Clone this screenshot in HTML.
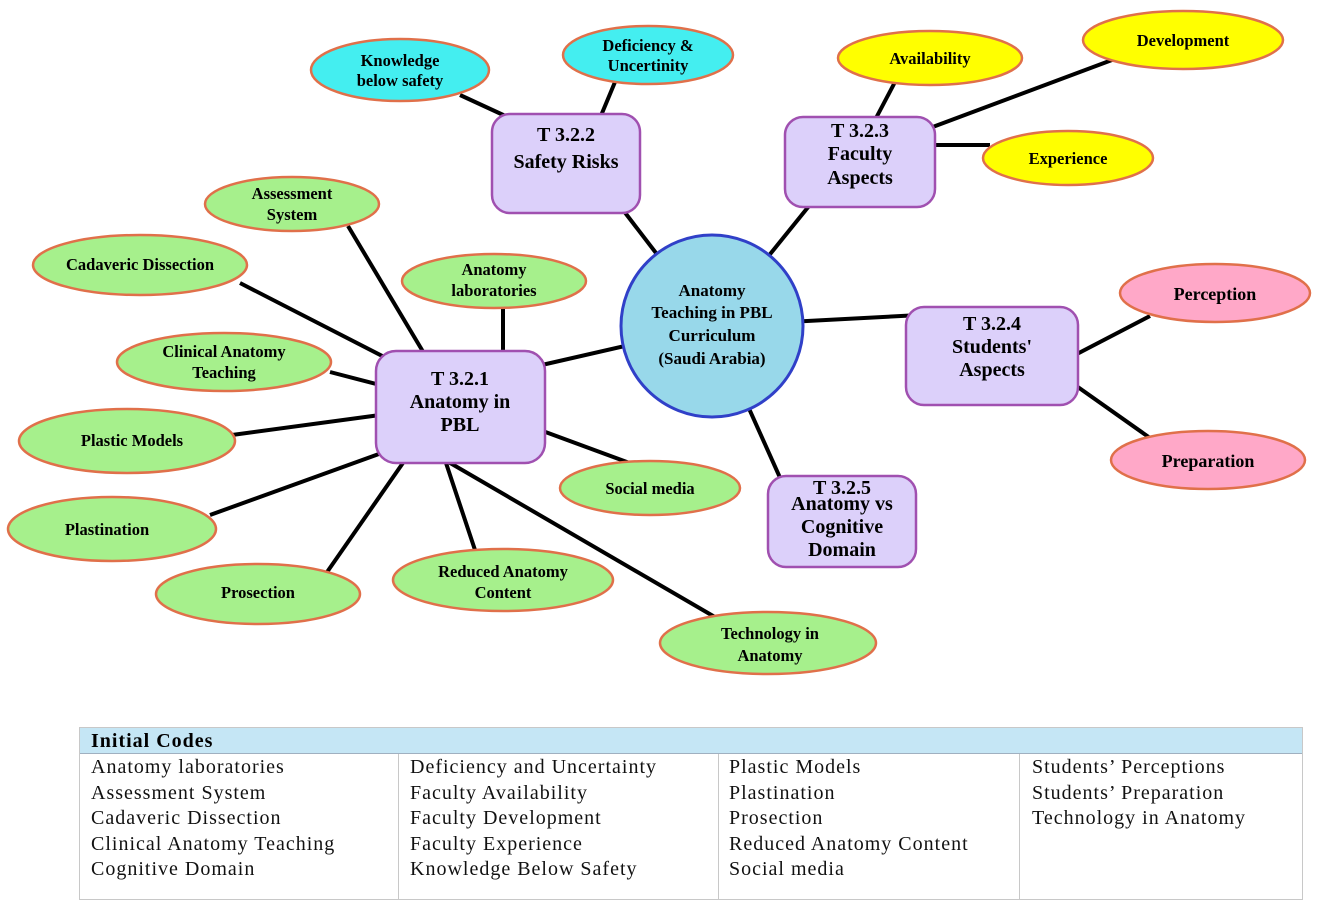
<!DOCTYPE html>
<html><head><meta charset="utf-8"><style>
body{margin:0;background:#fff;width:1325px;height:910px;overflow:hidden;position:relative;font-family:"Liberation Serif",serif}
svg{position:absolute;left:0;top:0}
.tbl{position:absolute;left:79px;top:727px;width:1224px;height:173px;border:1px solid #c8c8c8;box-sizing:border-box}
.hd{height:25px;background:#c5e6f5;border-bottom:1px solid #a0b0c0;font-weight:bold;font-size:20px;padding-left:11px;line-height:26px;letter-spacing:1px}
.col{position:absolute;top:27px;font-size:20px;line-height:25.5px;color:#111;letter-spacing:1px}
.sep{position:absolute;top:26px;bottom:0;width:1px;background:#c8c8c8}
</style></head><body>
<svg width="1325" height="910" font-family="Liberation Serif, serif" font-weight="bold" text-anchor="middle">
<g stroke="#000" stroke-width="4">
<line x1="712" y1="326" x2="600" y2="180"/>
<line x1="712" y1="326" x2="830" y2="180"/>
<line x1="712" y1="326" x2="920" y2="315"/>
<line x1="712" y1="326" x2="790" y2="500"/>
<line x1="712" y1="326" x2="520" y2="370"/>
<line x1="460" y1="95" x2="525" y2="125"/>
<line x1="615" y1="82" x2="600" y2="118"/>
<line x1="895" y1="82" x2="875" y2="120"/>
<line x1="1120" y1="57" x2="930" y2="128"/>
<line x1="930" y1="145" x2="990" y2="145"/>
<line x1="1150" y1="316" x2="1075" y2="355"/>
<line x1="1150" y1="438" x2="1075" y2="385"/>
<line x1="348" y1="226" x2="425" y2="355"/>
<line x1="240" y1="283" x2="390" y2="360"/>
<line x1="503" y1="305" x2="503" y2="355"/>
<line x1="330" y1="372" x2="380" y2="385"/>
<line x1="232" y1="435" x2="380" y2="415"/>
<line x1="210" y1="515" x2="390" y2="450"/>
<line x1="325" y1="575" x2="405" y2="460"/>
<line x1="475" y1="550" x2="445" y2="460"/>
<line x1="635" y1="465" x2="540" y2="430"/>
<line x1="720" y1="620" x2="445" y2="460"/>
</g>
<g stroke="#e0704a" stroke-width="2.5" fill="#a6f08c">
<ellipse cx="292" cy="204" rx="87" ry="27"/>
<ellipse cx="140" cy="265" rx="107" ry="30"/>
<ellipse cx="494" cy="281" rx="92" ry="27"/>
<ellipse cx="224" cy="362" rx="107" ry="29"/>
<ellipse cx="127" cy="441" rx="108" ry="32"/>
<ellipse cx="112" cy="529" rx="104" ry="32"/>
<ellipse cx="258" cy="594" rx="102" ry="30"/>
<ellipse cx="503" cy="580" rx="110" ry="31"/>
<ellipse cx="650" cy="488" rx="90" ry="27"/>
<ellipse cx="768" cy="643" rx="108" ry="31"/>
<ellipse cx="400" cy="70" rx="89" ry="31" fill="#44eef0"/>
<ellipse cx="648" cy="55" rx="85" ry="29" fill="#44eef0"/>
<ellipse cx="930" cy="58" rx="92" ry="27" fill="#ffff00"/>
<ellipse cx="1183" cy="40" rx="100" ry="29" fill="#ffff00"/>
<ellipse cx="1068" cy="158" rx="85" ry="27" fill="#ffff00"/>
<ellipse cx="1215" cy="293" rx="95" ry="29" fill="#ffa8c8"/>
<ellipse cx="1208" cy="460" rx="97" ry="29" fill="#ffa8c8"/>
</g>
<g stroke="#a050b0" stroke-width="2.5" fill="#dcd0fa">
<rect x="492" y="114" width="148" height="99" rx="18"/>
<rect x="785" y="117" width="150" height="90" rx="18"/>
<rect x="906" y="307" width="172" height="98" rx="18"/>
<rect x="768" y="476" width="148" height="91" rx="18"/>
<rect x="376" y="351" width="169" height="112" rx="20"/>
</g>
<circle cx="712" cy="326" r="91" fill="#98d8ea" stroke="#3040c8" stroke-width="3"/>
<g font-size="17">
<text x="712" y="296">Anatomy</text><text x="712" y="318">Teaching in PBL</text><text x="712" y="341">Curriculum</text><text x="712" y="364">(Saudi Arabia)</text>
<text x="566" y="141" font-size="20">T 3.2.2</text><text x="566" y="168" font-size="20">Safety Risks</text>
<text x="860" y="137" font-size="20">T 3.2.3</text><text x="860" y="160" font-size="20">Faculty</text><text x="860" y="184" font-size="20">Aspects</text>
<text x="992" y="330" font-size="20">T 3.2.4</text><text x="992" y="353" font-size="20">Students'</text><text x="992" y="376" font-size="20">Aspects</text>
<text x="842" y="494" font-size="20">T 3.2.5</text><text x="842" y="510" font-size="20">Anatomy vs</text><text x="842" y="533" font-size="20">Cognitive</text><text x="842" y="556" font-size="20">Domain</text>
<text x="460" y="385" font-size="20">T 3.2.1</text><text x="460" y="408" font-size="20">Anatomy in</text><text x="460" y="431" font-size="20">PBL</text>
</g>
<g font-size="16.5">
<text x="400" y="66">Knowledge</text><text x="400" y="86">below safety</text>
<text x="648" y="51">Deficiency &amp;</text><text x="648" y="71">Uncertinity</text>
<text x="930" y="64">Availability</text>
<text x="1183" y="46">Development</text>
<text x="1068" y="164">Experience</text>
<text x="1215" y="300" font-size="18">Perception</text>
<text x="1208" y="467" font-size="18">Preparation</text>
<text x="292" y="199">Assessment</text><text x="292" y="220">System</text>
<text x="140" y="270">Cadaveric Dissection</text>
<text x="494" y="275">Anatomy</text><text x="494" y="296">laboratories</text>
<text x="224" y="357">Clinical Anatomy</text><text x="224" y="378">Teaching</text>
<text x="132" y="446">Plastic Models</text>
<text x="107" y="535">Plastination</text>
<text x="258" y="598">Prosection</text>
<text x="503" y="577">Reduced Anatomy</text><text x="503" y="598">Content</text>
<text x="650" y="494">Social media</text>
<text x="770" y="639">Technology in</text><text x="770" y="661">Anatomy</text>
</g>
</svg>
<div class="tbl">
<div class="hd">Initial Codes</div>
<div class="sep" style="left:318px"></div><div class="sep" style="left:638px"></div><div class="sep" style="left:939px"></div>
<div class="col" style="left:11px">Anatomy laboratories<br>Assessment System<br>Cadaveric Dissection<br>Clinical Anatomy Teaching<br>Cognitive Domain</div>
<div class="col" style="left:330px">Deficiency and Uncertainty<br>Faculty Availability<br>Faculty Development<br>Faculty Experience<br>Knowledge Below Safety</div>
<div class="col" style="left:649px">Plastic Models<br>Plastination<br>Prosection<br>Reduced Anatomy Content<br>Social media</div>
<div class="col" style="left:952px">Students’ Perceptions<br>Students’ Preparation<br>Technology in Anatomy</div>
</div>
</body></html>
